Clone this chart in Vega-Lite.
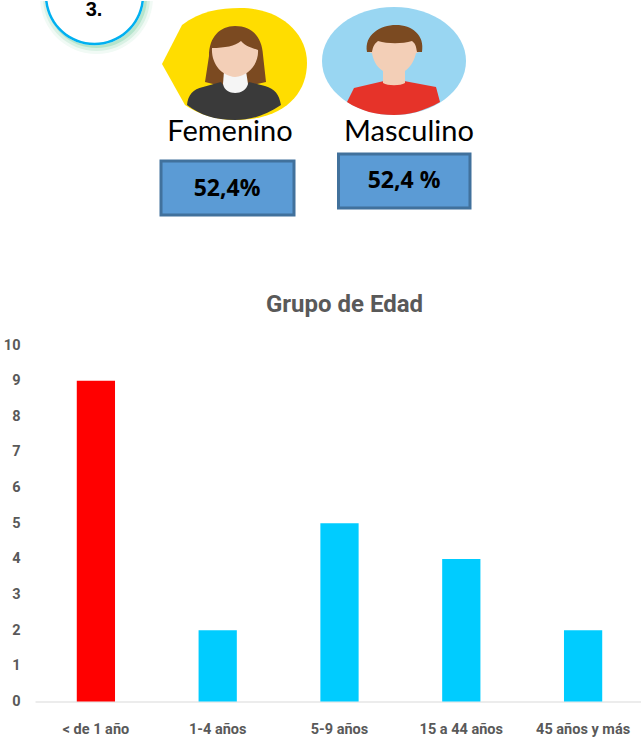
{
"$schema":"https://vega.github.io/schema/vega-lite/v6.json",
"width":641,"height":739,"padding":0,
"autosize":{"type":"fit","contains":"padding"},
"background":"white",
"config":{"view":{"stroke":null}},
"datasets":{
"grupos":[{"grupo":"< de 1 año","casos":9},{"grupo":"1-4 años","casos":2},{"grupo":"5-9 años","casos":5},{"grupo":"15 a 44 años","casos":4},{"grupo":"45 años y más","casos":2}],
"generos":[{"genero":"Femenino","porcentaje":"52,4%","fila":"valor","filaEtiqueta":"etiqueta"},{"genero":"Masculino","porcentaje":"52,4 %","fila":"valor","filaEtiqueta":"etiqueta"}],
"figuras":[
{"columna":"Femenino","fila":"avatar","parte":"fondoF"},
{"columna":"Femenino","fila":"avatar","parte":"peloF"},
{"columna":"Femenino","fila":"avatar","parte":"cuerpoF"},
{"columna":"Femenino","fila":"avatar","parte":"cuelloF"},
{"columna":"Femenino","fila":"avatar","parte":"caraF"},
{"columna":"Masculino","fila":"avatar","parte":"fondoM"},
{"columna":"Masculino","fila":"avatar","parte":"camisaM"},
{"columna":"Masculino","fila":"avatar","parte":"caraM"},
{"columna":"Masculino","fila":"avatar","parte":"peloM"},
{"columna":"insignia","fila":"avatar","parte":"sombra1"},
{"columna":"insignia","fila":"avatar","parte":"sombra2"},
{"columna":"insignia","fila":"avatar","parte":"sombra3"},
{"columna":"insignia","fila":"avatar","parte":"interior"},
{"columna":"insignia","fila":"avatar","parte":"anillo"}
],
"cajas":[{"columna":"Femenino","fila":"valor","parte":"cajaF"},{"columna":"Masculino","fila":"valor","parte":"cajaM"}],
"insignia":[{"columna":"insignia","fila":"avatar","texto":"3."}]
},
"resolve":{"scale":{"x":"independent","y":"independent","shape":"independent"}},
"layer":[
{"data":{"name":"grupos"},"mark":{"type":"bar"},
"encoding":{
"x":{"field":"grupo","type":"nominal","sort":null,
 "scale":{"domain":["< de 1 año","1-4 años","5-9 años","15 a 44 años","45 años y más"],"range":[35,644],"paddingInner":0.686,"paddingOuter":0.343},
 "axis":{"orient":"bottom","offset":-37.5,"labelAngle":0,"ticks":false,"domainColor":"#D9D9D9","domainWidth":1,"labelFont":"Roboto","labelFontWeight":"bold","labelFontSize":14.5,"labelColor":"#595959","labelPadding":28,"labelBaseline":"middle","title":"Grupo de Edad","titleFont":"Roboto","titleFontSize":24,"titleFontWeight":"bold","titleColor":"#595959","titleX":344,"titleY":-409,"titleAnchor":"middle","titleAlign":"center","grid":false}},
"y":{"field":"casos","type":"quantitative",
 "scale":{"domain":[0,10],"range":[701.5,345]},
 "axis":{"orient":"left","offset":-22,"values":[0,1,2,3,4,5,6,7,8,9,10],"ticks":false,"domain":false,"grid":false,"title":null,"labelFont":"Roboto","labelFontWeight":"bold","labelFontSize":14.5,"labelColor":"#595959","labelPadding":2}},
"color":{"field":"grupo","type":"nominal","legend":null,"scale":{"domain":["< de 1 año","1-4 años","5-9 años","15 a 44 años","45 años y más"],"range":["#FF0000","#00CCFF","#00CCFF","#00CCFF","#00CCFF"]}}
}},
{"data":{"name":"figuras"},"mark":{"type":"point","filled":true,"size":4,"opacity":1,"strokeWidth":0},
"encoding":{
"x":{"field":"columna","type":"nominal","sort":null,"scale":{"type":"point","domain":["insignia","Femenino","Masculino"],"range":[76,394],"padding":0},"axis":null},
"y":{"field":"fila","type":"nominal","sort":null,"scale":{"type":"point","domain":["avatar","etiqueta","valor"],"range":[63,184],"padding":0},"axis":null},
"shape":{"field":"parte","type":"nominal","legend":null,"scale":{
 "domain":["fondoF","peloF","cuerpoF","cuelloF","caraF","fondoM","camisaM","caraM","peloM","sombra1","sombra2","sombra3","interior","anillo"],
 "range":[
 "M-73 1L-53 -38C-35 -52 -15 -55 5 -55C45 -55 72 -30 72 0C72 30 50 57 0 57C-22 57 -38 50 -50 42Z",
 "M-30 19L-26 -7C-26 -26 -15 -37 0 -37C17 -37 27 -26 28 -8L31 19L10 24L-10 24Z",
 "M-48 42C-47 32 -42 26 -32 24L-14 19C-10 27 10 27 14 19L30 23C40 26 44 31 46 42C30 53 15 57 0 57C-20 57 -35 52 -48 42Z",
 "M-11 8L-12 21C-10 33 10 33 13 21L11 8Z",
 "M-23 -15C-10 -15 0 -17 6 -22C11 -16 18 -15 23 -13C24 0 14 13 0 14C-14 13 -24 0 -23 -15Z",
 "M-72 -2C-72 -31.8 -39.8 -56 0 -56C39.8 -56 72 -31.8 72 -2C72 27.8 39.8 52 0 52C-39.8 52 -72 27.8 -72 -2Z",
 "M-47 39L-40 25L-10 18L10 18L42 24L46 39C30 48 15 52 0 52C-18 52 -33 48 -47 39Z",
 "M-11 8L-11 20C-6 23 6 23 11 20L11 8C18 3 21 -5 22 -10C27 -10 26 -18 23 -18L22 -28L-21 -28L-21 -18C-26 -18 -27 -10 -22 -10C-21 -4 -18 4 -11 8Z",
 "M-27 -11C-30 -28 -14 -38 2 -38C18 -38 31 -28 28 -11L23 -11C22 -16 22 -19 18 -22C8 -19 -6 -19 -16 -22C-20 -19 -21 -16 -22 -11Z",
 "M-35.89 -62C-34.04 -32.26 -9.3 -9 20.5 -9C50.3 -9 75.04 -32.26 76.89 -62Z",
 "M-32.89 -62C-31.05 -33.8 -7.75 -12 20.5 -12C48.75 -12 72.05 -33.8 73.89 -62Z",
 "M-29.88 -62C-28.04 -35.4 -6.16 -15 20.5 -15C47.16 -15 69.04 -35.4 70.88 -62Z",
 "M-30.94 -62C-28.14 -36.82 -6.83 -17.75 18.5 -17.75C43.83 -17.75 65.14 -36.82 67.94 -62Z",
 "M-30.94 -62C-28.14 -36.82 -6.83 -17.75 18.5 -17.75C43.83 -17.75 65.14 -36.82 67.94 -62L65.43 -62C62.64 -38.22 42.45 -20.25 18.5 -20.25C-5.45 -20.25 -25.64 -38.22 -28.43 -62Z"
 ]}},
"fill":{"field":"parte","type":"nominal","legend":null,"scale":{
 "domain":["fondoF","peloF","cuerpoF","cuelloF","caraF","fondoM","camisaM","caraM","peloM","sombra1","sombra2","sombra3","interior","anillo"],
 "range":["#FFDD00","#7B4A21","#3A3A3A","#F5F5F5","#F3CFB7","#99D6F2","#E63329","#F3CFB7","#7B4A21","#F1FAF5","#D9F1E4","#B5E5CC","#FFFFFF","#00B0F0"]}}
}},
{"data":{"name":"insignia"},"mark":{"type":"text","font":"Liberation Sans","fontWeight":"bold","fontSize":20,"color":"#000000","align":"center","baseline":"alphabetic","dx":18,"dy":-47},
"encoding":{
"x":{"field":"columna","type":"nominal","scale":{"type":"point","domain":["insignia","Femenino","Masculino"],"range":[76,394],"padding":0},"axis":null},
"y":{"field":"fila","type":"nominal","scale":{"type":"point","domain":["avatar","etiqueta","valor"],"range":[63,184],"padding":0},"axis":null},
"text":{"field":"texto"}
}},
{"data":{"name":"cajas"},"mark":{"type":"point","filled":true,"size":4,"opacity":1,"fill":"#5B9BD5","stroke":"#41719C","strokeWidth":3},
"encoding":{
"x":{"field":"columna","type":"nominal","sort":null,"scale":{"type":"point","domain":["insignia","Femenino","Masculino"],"range":[76,394],"padding":0},"axis":null},
"y":{"field":"fila","type":"nominal","sort":null,"scale":{"type":"point","domain":["avatar","etiqueta","valor"],"range":[63,184],"padding":0},"axis":null},
"shape":{"field":"parte","type":"nominal","legend":null,"scale":{"domain":["cajaF","cajaM"],"range":["M-74 -23H59V31H-74Z","M-55.5 -30H76V24H-55.5Z"]}}
}},
{"data":{"name":"generos"},"transform":[{"filter":"datum.genero==='Femenino'"}],"mark":{"type":"text","font":"Lato","fontSize":29,"color":"#000000","align":"center","baseline":"middle","dx":-5,"dy":8},
"encoding":{
"x":{"field":"genero","type":"nominal","scale":{"type":"point","domain":["insignia","Femenino","Masculino"],"range":[76,394],"padding":0},"axis":null},
"y":{"field":"filaEtiqueta","type":"nominal","scale":{"type":"point","domain":["avatar","etiqueta","valor"],"range":[63,184],"padding":0},"axis":null},
"text":{"field":"genero"}
}},
{"data":{"name":"generos"},"transform":[{"filter":"datum.genero==='Masculino'"}],"mark":{"type":"text","font":"Lato","fontSize":29,"color":"#000000","align":"center","baseline":"middle","dx":15,"dy":8},
"encoding":{
"x":{"field":"genero","type":"nominal","scale":{"type":"point","domain":["insignia","Femenino","Masculino"],"range":[76,394],"padding":0},"axis":null},
"y":{"field":"filaEtiqueta","type":"nominal","scale":{"type":"point","domain":["avatar","etiqueta","valor"],"range":[63,184],"padding":0},"axis":null},
"text":{"field":"genero"}
}},
{"data":{"name":"generos"},"transform":[{"filter":"datum.genero==='Femenino'"}],"mark":{"type":"text","font":"Open Sans","fontWeight":"bold","fontSize":23,"color":"#000000","align":"center","baseline":"middle","dx":-8,"dy":5},
"encoding":{
"x":{"field":"genero","type":"nominal","scale":{"type":"point","domain":["insignia","Femenino","Masculino"],"range":[76,394],"padding":0},"axis":null},
"y":{"field":"fila","type":"nominal","scale":{"type":"point","domain":["avatar","etiqueta","valor"],"range":[63,184],"padding":0},"axis":null},
"text":{"field":"porcentaje"}
}},
{"data":{"name":"generos"},"transform":[{"filter":"datum.genero==='Masculino'"}],"mark":{"type":"text","font":"Open Sans","fontWeight":"bold","fontSize":23,"color":"#000000","align":"center","baseline":"middle","dx":10,"dy":-3},
"encoding":{
"x":{"field":"genero","type":"nominal","scale":{"type":"point","domain":["insignia","Femenino","Masculino"],"range":[76,394],"padding":0},"axis":null},
"y":{"field":"fila","type":"nominal","scale":{"type":"point","domain":["avatar","etiqueta","valor"],"range":[63,184],"padding":0},"axis":null},
"text":{"field":"porcentaje"}
}}
]
}
